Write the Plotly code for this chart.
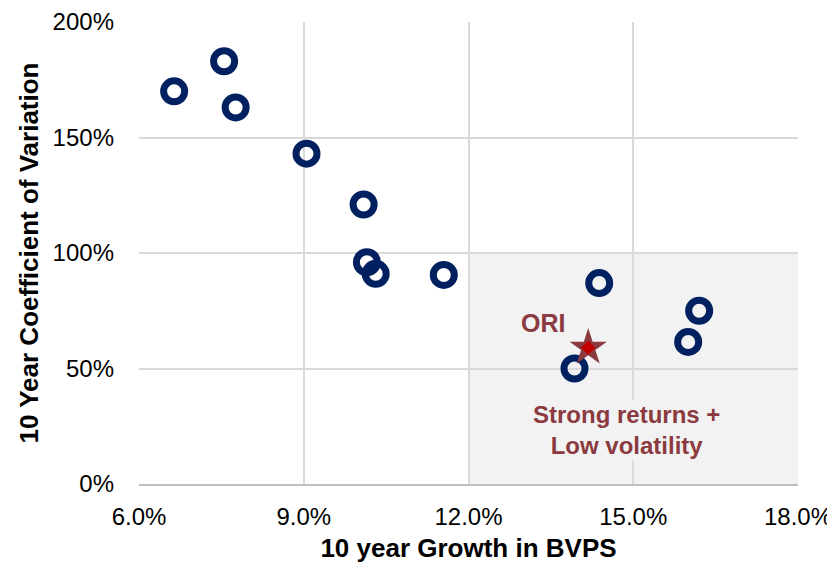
import plotly.graph_objects as go

growth = [6.64, 7.55, 7.76, 9.05, 10.09, 10.15, 10.31, 11.55, 14.38, 16.2, 16.0, 13.93]
cov = [170, 183, 163, 143, 121, 96, 91, 90.5, 87, 75, 61.5, 50]
ori_growth = [14.18]
ori_cov = [59]
x_ticks = [6, 9, 12, 15, 18]
x_labels = ["6.0%", "9.0%", "12.0%", "15.0%", "18.0%"]
y_ticks = [0, 50, 100, 150, 200]
y_labels = ["0%", "50%", "100%", "150%", "200%"]

navy = "#002060"
maroon = "#8B3A3F"
font = "Liberation Sans, Arial, sans-serif"

fig = go.Figure()
fig.add_shape(type="rect", x0=12, x1=18, y0=0, y1=100, fillcolor="#F2F2F2",
              line=dict(width=0), layer="below")
fig.add_trace(go.Scatter(x=growth, y=cov, mode="markers",
                         marker=dict(symbol="circle-open", size=21, color=navy,
                                     line=dict(width=7, color=navy)),
                         showlegend=False))
fig.add_trace(go.Scatter(x=ori_growth, y=ori_cov, mode="markers",
                         marker=dict(symbol="star", size=28, color=maroon, line=dict(width=0)),
                         showlegend=False))
fig.add_trace(go.Scatter(x=ori_growth, y=ori_cov, mode="markers",
                         marker=dict(symbol="diamond", size=11, color="#C00000", line=dict(width=0)),
                         showlegend=False))
fig.add_annotation(x=ori_growth[0], y=ori_cov[0], text="<b>ORI</b>", showarrow=False,
                   xshift=-45, yshift=25, font=dict(family=font, size=25, color=maroon))
fig.add_annotation(x=14.87, y=23.4, text="<b>Strong returns +<br>Low volatility</b>", showarrow=False,
                   bgcolor="#F2F2F2", font=dict(family=font, size=24, color=maroon),
                   align="center")

fig.update_layout(
    width=835, height=569,
    margin=dict(l=131, r=45, t=14, b=93),
    plot_bgcolor="white", paper_bgcolor="white",
    font=dict(family=font, size=24, color="black"),
    xaxis=dict(range=[6, 18], tickvals=x_ticks, ticktext=x_labels, showgrid=True,
               gridcolor="#D9D9D9", gridwidth=1.5, zeroline=False, showline=True,
               linecolor="#BFBFBF", linewidth=1.5, ticks="", automargin=False,
               ticklabelstandoff=10,
               title=dict(text="<b>10 year Growth in BVPS</b>", font=dict(size=26), standoff=10),
               tickfont=dict(size=24)),
    yaxis=dict(range=[0, 200], tickvals=y_ticks, ticktext=y_labels, showgrid=True,
               gridcolor="#D9D9D9", gridwidth=1.5, zeroline=False, showline=False,
               ticks="", automargin=False, ticklabelstandoff=24,
               title=dict(text="<b>10 Year Coefficient of Variation</b>", font=dict(size=26), standoff=6),
               tickfont=dict(size=24)),
)
fig.write_html("out.html")
